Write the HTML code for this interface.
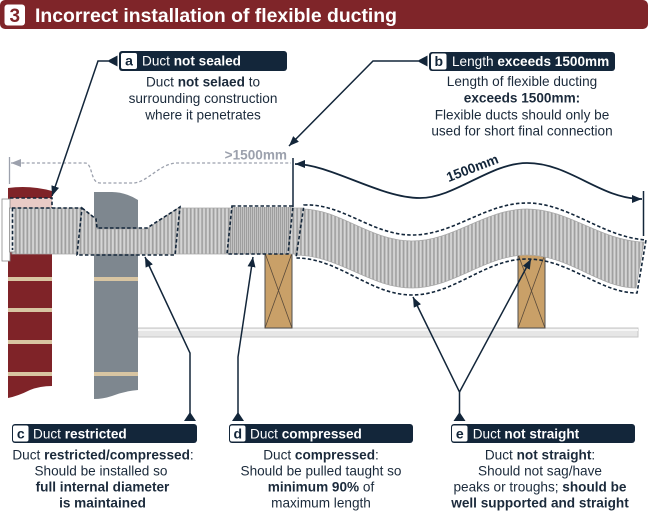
<!DOCTYPE html>
<html><head><meta charset="utf-8"><style>
html,body{margin:0;padding:0;background:#fff;width:651px;height:511px;overflow:hidden}
svg{display:block}
text{font-family:"Liberation Sans",Arial,sans-serif}
</style></head><body>
<svg width="651" height="511" viewBox="0 0 651 511" xmlns="http://www.w3.org/2000/svg">
<defs>
<pattern id="rib" patternUnits="userSpaceOnUse" width="3.8" height="10">
<rect width="3.8" height="10" fill="#c9c9c9"/>
<rect x="0" width="1.5" height="10" fill="#a0a0a0"/>
<rect x="2.2" width="0.8" height="10" fill="#dcdcdc"/>
</pattern>
<pattern id="ribd" patternUnits="userSpaceOnUse" width="2" height="10">
<rect width="2" height="10" fill="#c2c2c2"/>
<rect x="0" width="0.9" height="10" fill="#9a9a9a"/>
</pattern>
<marker id="ah" markerUnits="userSpaceOnUse" markerWidth="12" markerHeight="10" refX="10" refY="4" orient="auto-start-reverse">
<path d="M0,0 L10,4 L0,8 z" fill="#13263a"/>
</marker>
<marker id="ahg" markerUnits="userSpaceOnUse" markerWidth="12" markerHeight="10" refX="10" refY="4" orient="auto-start-reverse">
<path d="M0,0 L10,4 L0,8 z" fill="#9ca1ad"/>
</marker>
</defs>

<!-- Header -->
<rect x="0" y="0" width="648" height="29" rx="5" fill="#7f2529"/>
<rect x="4.5" y="4.5" width="20.5" height="21" rx="3" fill="#fff"/>
<text x="14.8" y="22" font-size="19" font-weight="bold" fill="#7f2529" text-anchor="middle">3</text>
<text x="35" y="22" font-size="19.5" font-weight="bold" fill="#fff" textLength="362" lengthAdjust="spacingAndGlyphs">Incorrect installation of flexible ducting</text>

<!-- Floor bar -->
<rect x="138" y="328" width="500" height="9" fill="#e6e6e6" stroke="#c6c6c6" stroke-width="1"/>
<rect x="138" y="329" width="500" height="2" fill="#f6f6f6"/>

<!-- Timbers -->
<rect x="265" y="253" width="27" height="75" fill="#c9a068" stroke="#4e4e4e" stroke-width="1"/>
<path d="M265,253 L292,328 M292,253 L265,328" stroke="#5a4a3a" stroke-width="0.8" fill="none"/>
<rect x="518" y="254" width="27" height="74" fill="#c9a068" stroke="#4e4e4e" stroke-width="1"/>
<path d="M518,254 L545,328 M545,254 L518,328" stroke="#5a4a3a" stroke-width="0.8" fill="none"/>

<!-- Red brick wall -->
<path d="M8,188 Q30,185 52,191 L52,386 Q40,386 30,390 Q18,396 8,398 Z" fill="#7f2328"/>
<rect x="8" y="277" width="44" height="4" fill="#d8c5a2"/>
<rect x="8" y="308" width="44" height="4" fill="#d8c5a2"/>
<rect x="8" y="340" width="44" height="4" fill="#d8c5a2"/>
<rect x="8" y="372" width="44" height="4" fill="#d8c5a2"/>
<rect x="10" y="198" width="42" height="10" fill="#e9cbc6"/>

<!-- Gray wall -->
<path d="M94,192 L112,192 Q125,192 138,200 L138,390 Q125,391 112,396 Q103,399 94,399 Z" fill="#7e878f"/>
<rect x="94" y="277" width="44" height="4" fill="#d8c5a2"/>
<rect x="94" y="372" width="44" height="4" fill="#d8c5a2"/>

<!-- Duct straight section -->
<path d="M12,208 L82,208 L97,220 L97,229 L147,229 L178,208 L302,208 L302,254 L12,254 Z" fill="url(#rib)" stroke="#a8a8a8" stroke-width="0.8"/>
<!-- compressed -->
<path d="M232,207 L292,207 L288,254 L227,254 Z" fill="url(#ribd)"/>
<!-- wave section -->
<path d="M302,209 C340,209 370,241 412,241 C454,241 485,209 527,209 C569,209 600,241 644,242 L636,288 C600,288 569,255 527,255 C485,255 454,288 412,288 C370,288 339,255 295,255 Z" fill="url(#rib)" stroke="#a8a8a8" stroke-width="0.8"/>

<!-- Collar -->
<rect x="2" y="199" width="8" height="62" fill="#fff" stroke="#8a8a8a" stroke-width="0.8"/>
<rect x="9.5" y="208" width="5.5" height="44" fill="#ececec" stroke="#8a8a8a" stroke-width="0.8"/>

<!-- Dashed outlines -->
<g fill="none" stroke="#13263a" stroke-width="1.6" stroke-dasharray="3.5 2.2">
<path d="M10,198 H52 V208"/>
<path d="M12,208 H82"/>
<path d="M12.5,208 V250"/>
<path d="M82,208 L96,219 L97,228 L147,228 L180,207 L175,255 L77,255 Z"/>
<path d="M232,206 L293,206 L288,254 L227,254 Z"/>
<path d="M304,205 C342,203 372,235 412,235 C454,235 485,203 527,203 C569,203 602,237 646,240 L637,293 C600,293 569,259 527,259 C485,259 454,295 412,295 C370,295 339,258 296,258 Z"/>
</g>

<!-- Gray >1500mm dimension -->
<line x1="9.5" y1="157" x2="9.5" y2="184" stroke="#9ca1ad" stroke-width="1.3"/>
<path d="M11,163 H85 C93,163 90,183 100,183 H133 C147,183 160,163 177,163 H291" fill="none" stroke="#9ca1ad" stroke-width="1.3" stroke-dasharray="3 2.2" marker-start="url(#ahg)"/>
<text x="287" y="159.5" font-size="13.6" font-weight="bold" fill="#9ca1ad" text-anchor="end">&gt;1500mm</text>

<!-- 1500mm dimension -->
<line x1="293" y1="158" x2="293" y2="207" stroke="#13263a" stroke-width="1.5"/>
<line x1="643.5" y1="191" x2="643.5" y2="236" stroke="#13263a" stroke-width="1.5"/>
<path d="M295,164 C330,164 380,198 420,198 C455,198 490,163 527,163 C570,163 600,199 642,199" fill="none" stroke="#13263a" stroke-width="1.8" marker-start="url(#ah)" marker-end="url(#ah)"/>
<text x="474" y="172.4" font-size="13.6" font-weight="bold" fill="#13263a" text-anchor="middle" transform="rotate(-21 474 172.4)">1500mm</text>

<!-- Pointers -->
<g fill="none" stroke="#13263a" stroke-width="1.5">
<path d="M108,61 L98,61 L52,196" marker-end="url(#ah)"/>
<path d="M418,61 L373,61 L289,146" marker-end="url(#ah)"/>
<path d="M190,414 L190,353 L145,257" marker-end="url(#ah)"/>
<path d="M238,414 L238,357 L253,257" marker-end="url(#ah)"/>
<path d="M459.5,414 L459.5,392 L413,297" marker-end="url(#ah)"/>
<path d="M459.5,392 L531,259" marker-end="url(#ah)"/>
</g>
<g fill="#13263a">
<polygon points="107,61 117.5,55.5 117.5,66.5"/>
<polygon points="417,61 427.5,55.5 427.5,66.5"/>
<polygon points="190,412 184,421 196,421"/>
<polygon points="238,412 232,421 244,421"/>
<polygon points="459.5,412 453.5,421 465.5,421"/>
</g>

<!-- Box a -->
<rect x="119" y="51" width="168" height="20" rx="3" fill="#13263a"/>
<rect x="121" y="53" width="16" height="16" rx="2" fill="#fff"/>
<text x="129" y="65.7" font-size="14" font-weight="bold" fill="#13263a" text-anchor="middle">a</text>
<text x="142" y="65.7" font-size="13.6" fill="#fff">Duct <tspan font-weight="bold">not sealed</tspan></text>
<g font-size="13.6" fill="#1b2a3b" text-anchor="middle">
<text x="203" y="86.5">Duct <tspan font-weight="bold">not selaed</tspan> to</text>
<text x="203" y="103">surrounding construction</text>
<text x="203" y="119.5">where it penetrates</text>
</g>

<!-- Box b -->
<rect x="429" y="52" width="186" height="19" rx="3" fill="#13263a"/>
<rect x="431" y="53.5" width="15.5" height="16" rx="2" fill="#fff"/>
<text x="438.8" y="66" font-size="14" font-weight="bold" fill="#13263a" text-anchor="middle">b</text>
<text x="452" y="66" font-size="13.6" fill="#fff">Length <tspan font-weight="bold">exceeds 1500mm</tspan></text>
<g font-size="13.6" fill="#1b2a3b" text-anchor="middle">
<text x="522" y="86">Length of flexible ducting</text>
<text x="522" y="102.7" font-weight="bold">exceeds 1500mm:</text>
<text x="522" y="119.3">Flexible ducts should only be</text>
<text x="522" y="135.5">used for short final connection</text>
</g>

<!-- Box c -->
<rect x="12" y="424" width="185" height="19" rx="3" fill="#13263a"/>
<rect x="13" y="425.5" width="15.5" height="16" rx="2" fill="#fff"/>
<text x="20.8" y="438.3" font-size="14" font-weight="bold" fill="#13263a" text-anchor="middle">c</text>
<text x="33" y="438.3" font-size="13.6" fill="#fff">Duct <tspan font-weight="bold">restricted</tspan></text>
<g font-size="13.6" fill="#1b2a3b" text-anchor="middle">
<text x="103" y="459.3">Duct <tspan font-weight="bold">restricted/compressed</tspan>:</text>
<text x="101" y="475.7">Should be installed so</text>
<text x="102.5" y="491.7" font-weight="bold">full internal diameter</text>
<text x="102.5" y="507.7" font-weight="bold">is maintained</text>
</g>

<!-- Box d -->
<rect x="229" y="424" width="184" height="19" rx="3" fill="#13263a"/>
<rect x="230" y="425.5" width="15.5" height="16" rx="2" fill="#fff"/>
<text x="237.8" y="438.3" font-size="14" font-weight="bold" fill="#13263a" text-anchor="middle">d</text>
<text x="250" y="438.3" font-size="13.6" fill="#fff">Duct <tspan font-weight="bold">compressed</tspan></text>
<g font-size="13.6" fill="#1b2a3b" text-anchor="middle">
<text x="321" y="459.3">Duct <tspan font-weight="bold">compressed</tspan>:</text>
<text x="321" y="475.7">Should be pulled taught so</text>
<text x="321" y="491.7"><tspan font-weight="bold">minimum 90%</tspan> of</text>
<text x="321" y="507.7">maximum length</text>
</g>

<!-- Box e -->
<rect x="451" y="424" width="184" height="19" rx="3" fill="#13263a"/>
<rect x="452" y="425.5" width="15.5" height="16" rx="2" fill="#fff"/>
<text x="459.8" y="438.3" font-size="14" font-weight="bold" fill="#13263a" text-anchor="middle">e</text>
<text x="472.7" y="438.3" font-size="13.6" fill="#fff">Duct <tspan font-weight="bold">not straight</tspan></text>
<g font-size="13.6" fill="#1b2a3b" text-anchor="middle">
<text x="540" y="459.3">Duct <tspan font-weight="bold">not straight</tspan>:</text>
<text x="540" y="475.7">Should not sag/have</text>
<text x="540" y="491.7">peaks or troughs; <tspan font-weight="bold">should be</tspan></text>
<text x="540" y="507.7" font-weight="bold">well supported and straight</text>
</g>
</svg>
</body></html>
